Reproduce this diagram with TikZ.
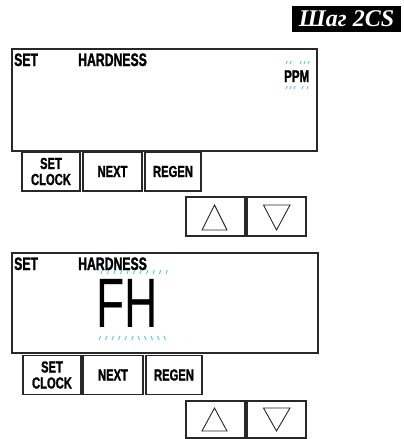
\documentclass[tikz,border=0pt]{standalone}
\usepackage{fontspec}
\usepackage{tikz}
\usetikzlibrary{positioning}
\newfontfamily\titlefont{Liberation Serif}
\newfontfamily\lcdfont[FakeStretch=0.68, BoldFeatures={FakeBold=1.4}]{Liberation Sans}
\newfontfamily\keyfont[FakeStretch=0.7, BoldFeatures={FakeBold=1.2}]{Liberation Sans}
\newfontfamily\segfont[FakeStretch=0.66]{Liberation Sans}
\definecolor{lcdcyan}{RGB}{90,205,215}
\definecolor{frame}{RGB}{40,40,40}

\tikzset{
  display/.style={draw=frame, line width=1.5pt, minimum width=305pt, minimum height=102pt, inner sep=0pt},
  keybox/.style={draw=frame, line width=1.2pt, minimum width=58pt, minimum height=39pt, inner sep=0pt,
                 align=center, font=\keyfont\bfseries\fontsize{16}{16}\selectfont},
  arrowkey/.style={draw=frame, line width=1.2pt, minimum width=59pt, minimum height=39pt, inner sep=0pt},
  lcdtext/.style={anchor=base west, inner sep=0pt, text depth=0pt, font=\lcdfont\bfseries\fontsize{18}{18}\selectfont},
  tick/.style={lcdcyan, line width=1pt}
}

\begin{document}
\begin{tikzpicture}[x=1pt, y=-1pt]
  \useasboundingbox (0,0) rectangle (404,439);

  % Title
  \node[fill=black, minimum width=109pt, minimum height=26pt, inner sep=0pt, text=white,
        font=\titlefont\bfseries\itshape\fontsize{24}{24}\selectfont] (title) at (346.5,19) {Шаг 2CS};

  % First display: PPM
  \node[display] (dispA) at (164.5,100) {};
  \node[lcdtext] (setA) at (14,66) {SET};
  \node[lcdtext] (hardA) at (78,66) {HARDNESS};
  \node[lcdtext, font=\lcdfont\bfseries\fontsize{17}{17}\selectfont] (ppm) at (284,82) {PPM};
  \foreach \x in {286,290,300,304,308} {
    \draw[tick] (\x,64) -- ++(1.2,-3);
  }
  \foreach \x in {286,290,294,302,307} {
    \draw[tick] (\x,89) -- ++(1.2,-3);
  }

  % Keys under first display
  \node[keybox] (clockA) at (51,171.5) {SET\\CLOCK};
  \node[keybox, minimum width=59pt] (nextA) at (112.5,171.5) {NEXT};
  \node[keybox, minimum width=56pt] (regenA) at (173,171.5) {REGEN};
  \node[arrowkey] (upA) at (215.5,216.5) {};
  \node[arrowkey] (downA) at (276.5,216.5) {};
  \draw[frame, line width=0.9pt] (202,230) -- (214.5,205) -- (227,230) -- cycle;
  \draw[frame, line width=0.9pt] (263.5,205) -- (290,205) -- (276.5,230) -- cycle;

  % Second display: FH
  \node[display, minimum width=306pt, minimum height=100pt] (dispB) at (165,303) {};
  \node[lcdtext] (setB) at (14,270) {SET};
  \node[lcdtext] (hardB) at (78,270) {HARDNESS};
  \node[anchor=base west, inner sep=0pt, text height=50pt, text depth=0pt,
        font=\segfont\fontsize{70}{70}\selectfont] (fh) at (96,327) {FH};
  \foreach \i in {0,...,10} {
    \draw[tick] (101+\i*6.5,274) -- ++(1.2,-4);
  }
  \foreach \i in {0,...,5} {
    \draw[tick] (99+\i*6.5,340) -- ++(1.5,-4);
  }
  \foreach \i in {6,...,10} {
    \draw[tick] (99+\i*6.5,336) -- ++(1.5,4);
  }

  % Keys under second display
  \node[keybox] (clockB) at (52,375) {SET\\CLOCK};
  \node[keybox, minimum width=60pt] (nextB) at (113,375) {NEXT};
  \node[keybox, minimum width=56pt] (regenB) at (174,375) {REGEN};
  \node[arrowkey, minimum height=37pt] (upB) at (215.5,419.5) {};
  \node[arrowkey, minimum height=37pt] (downB) at (276.5,419.5) {};
  \draw[frame, line width=0.9pt] (202,431) -- (214.5,408) -- (227,431) -- cycle;
  \draw[frame, line width=0.9pt] (263.5,408) -- (290,408) -- (276.5,431) -- cycle;
\end{tikzpicture}
\end{document}
